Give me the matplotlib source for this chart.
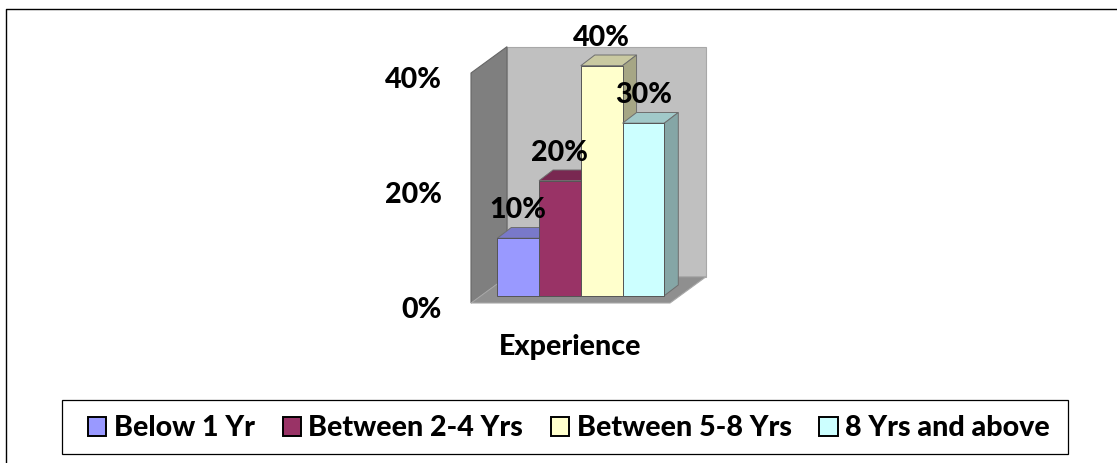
import matplotlib
matplotlib.use("Agg")
import matplotlib.pyplot as plt
from matplotlib.patches import Polygon, Patch, Rectangle
from matplotlib.lines import Line2D
from matplotlib.transforms import Affine2D
from matplotlib.colors import to_rgb

categories = ["Below 1 Yr", "Between 2-4 Yrs", "Between 5-8 Yrs", "8 Yrs and above"]
values = [10, 20, 40, 30]
colors = ["#9999ff", "#993366", "#ffffcc", "#ccffff"]
y_ticks = [0, 20, 40]
axis_title = "Experience"

W, H = 1117, 463
plt.rcParams["font.family"] = ["Lato", "DejaVu Sans"]
FS = 20.6
FW = 900
fig = plt.figure(figsize=(W / 100, H / 100), dpi=100, facecolor="white")

# outer chart border: only top and left edges are inside the image
fig.add_artist(Line2D([6 / W, 6 / W, 1], [0, 1 - 8.5 / H, 1 - 8.5 / H], transform=fig.transFigure,
                      color="black", lw=1.0))

# axes: bar plane, 0% at y=295.7px, 40% at y=65.7px, x from 497.3 to 664.3px
L, R, T, B = 497.3, 664.3, 65.7, 295.7
ax = fig.add_axes([L / W, 1 - B / H, (R - L) / W, (B - T) / H])
ax.set_xlim(0, 4)
ax.set_ylim(0, 40)
ax.axis("off")

def shifted(dx, dy):
    return ax.transData + Affine2D().translate(dx, dy)

front = shifted(0, -7.3)
back = shifted(36, 19)
x_l, x_r = -0.63, 4.137
dep_x, dep_y = 36 / 41.75, 26.3 * 40 / 230
edge = "#6e6e6e"
ax.add_patch(Polygon([(x_l, 0), (x_r, 0), (x_r, 40), (x_l, 40)], transform=back,
                     fc="#c0c0c0", ec="#a8a8a8", lw=0.8, clip_on=False))
ax.add_patch(Polygon([(x_l, 0), (x_l + dep_x, dep_y), (x_l + dep_x, 40 + dep_y), (x_l, 40)],
                     transform=front, fc="#7f7f7f", ec="#666666", lw=0.8, clip_on=False))
ax.add_patch(Polygon([(x_l, 0), (x_r, 0), (x_r + dep_x, dep_y), (x_l + dep_x, dep_y)],
                     transform=front, fc="#8f8f8f", ec="#a8a8a8", lw=0.8, clip_on=False))

ddx, ddy = 14 / 41.75, 10.7 * 40 / 230
def scale(c, f):
    return tuple(v * f for v in to_rgb(c))

for i, (v, c) in enumerate(zip(values, colors)):
    ax.add_patch(Polygon([(i, v), (i + 1, v), (i + 1 + ddx, v + ddy), (i + ddx, v + ddy)],
                         fc=scale(c, 0.79), ec=edge, lw=0.7, clip_on=False, zorder=3 + i))
    ax.add_patch(Polygon([(i + 1, 0), (i + 1 + ddx, ddy), (i + 1 + ddx, v + ddy), (i + 1, v)],
                         fc=scale(c, 0.65), ec=edge, lw=0.7, clip_on=False, zorder=3 + i))
    ax.bar(i + 0.5, v, width=1, color=c, edgecolor="#555555", lw=0.7, zorder=3 + i + 0.5, clip_on=False)

for i, v in enumerate(values):
    ax.annotate(f"{v}%", (i + 0.5, v), xytext=(0, 28 * 0.72), textcoords="offset points",
                ha="center", va="center", fontsize=FS, fontweight=FW, color="black", zorder=20,
                annotation_clip=False)

for t in y_ticks:
    ax.annotate(f"{t}%", (x_l, t), xycoords=front, xytext=(-29 * 0.72, -7 * 0.72),
                textcoords="offset points", ha="right", va="center",
                fontsize=FS, fontweight=FW, color="black")

fig.text(570 / W, 1 - 347 / H, axis_title, ha="center", va="center",
         fontsize=FS, fontweight=FW, color="black")

# legend box and entries
fig.add_artist(Rectangle((61.5 / W, 1 - 453.5 / H), (1068 - 61.5) / W, (453.5 - 399.5) / H,
                         transform=fig.transFigure, fc="white", ec="black", lw=0.9))
handles = [Patch(fc=c, ec="black", lw=1.4) for c in colors]
leg = fig.legend(handles, categories, ncol=4, loc="center left",
                 bbox_to_anchor=(88 / W, 1 - 428.5 / H), frameon=False,
                 handlelength=0.64, handleheight=0.64, handletextpad=0.26,
                 columnspacing=0.97, borderpad=0, borderaxespad=0,
                 prop={"family": "Lato", "weight": FW, "size": FS})
leg.set_zorder(5)

fig.savefig("out.png", dpi=100)
